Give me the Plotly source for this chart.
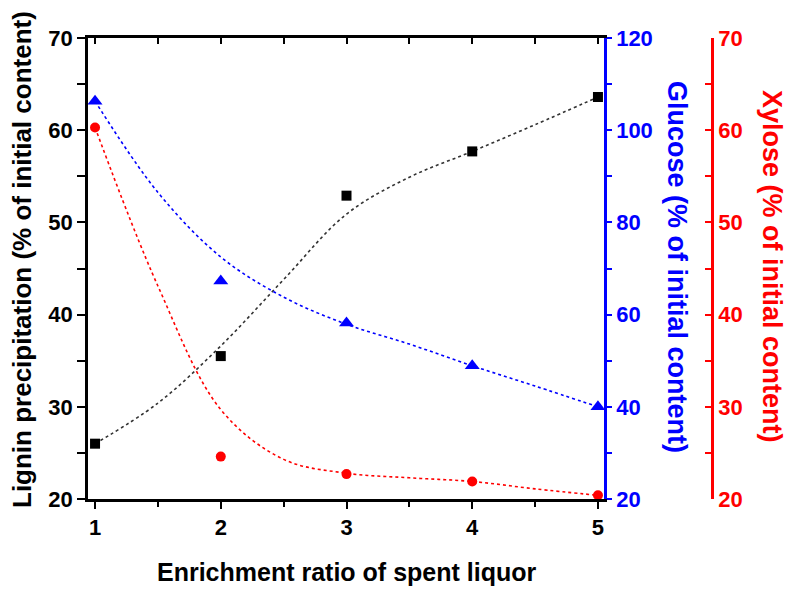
import plotly.graph_objects as go

# ---- data ----
ratio = [1, 2, 3, 4, 5]
lignin = [26.0, 35.5, 52.9, 57.7, 63.6]
glucose = [106.3, 67.3, 58.2, 48.9, 40.0]
xylose = [60.3, 24.6, 22.7, 21.9, 20.4]

# fitted-curve values
fit_x = [1, 1.5, 2, 2.5, 3, 3.5, 4, 4.5, 5]
lignin_fit = [26.0, 30.4, 36.6, 43.8, 50.9, 54.9, 57.7, 60.6, 63.6]
glucose_fit = [106.3, 86.5, 72.5, 63.8, 57.9, 53.6, 48.9, 44.5, 40.0]
xylose_fit = [60.3, 43.1, 29.7, 24.3, 22.8, 22.3, 21.9, 21.1, 20.4]

x_ticks = [1, 2, 3, 4, 5]

FONT = "Liberation Sans"
BLUE = "#0000FF"
RED = "#FF0000"

fig = go.Figure()

fig.add_trace(go.Scatter(x=fit_x, y=lignin_fit, mode="lines", line=dict(color="#333333", width=1.6, dash="dot", shape="spline"), yaxis="y", showlegend=False))
fig.add_trace(go.Scatter(x=fit_x, y=glucose_fit, mode="lines", line=dict(color=BLUE, width=1.6, dash="dot", shape="spline"), yaxis="y2", showlegend=False))
fig.add_trace(go.Scatter(x=fit_x, y=xylose_fit, mode="lines", line=dict(color=RED, width=1.6, dash="dot", shape="spline"), yaxis="y3", showlegend=False))

fig.add_trace(go.Scatter(x=ratio, y=lignin, mode="markers", marker=dict(symbol="square", size=10, color="black"), yaxis="y", showlegend=False))
fig.add_trace(go.Scatter(x=ratio, y=glucose, mode="markers", marker=dict(symbol="triangle-up", size=13, color=BLUE), yaxis="y2", showlegend=False))
fig.add_trace(go.Scatter(x=ratio, y=xylose, mode="markers", marker=dict(symbol="circle", size=10, color=RED), yaxis="y3", showlegend=False))
# invisible trace to materialise the top mirror axis
fig.add_trace(go.Scatter(x=[ratio[0]], y=[lignin[0]], mode="markers", marker=dict(opacity=0), xaxis="x2", yaxis="y", showlegend=False, hoverinfo="skip"))

L, R, T, B = 88, 75, 38, 90
W, H = 787, 589
PW, PH = W - L - R, H - T - B
dom = (604 - L) / PW
xr = [0.944, 5.048]


def px_x(p):
    return (p - L) / PW


def px_y(p):
    return ((H - B) - p) / PH


tickf = dict(family=FONT, size=22, weight="bold")

fig.update_layout(
    width=W, height=H,
    margin=dict(l=L, r=R, t=T, b=B, pad=0),
    paper_bgcolor="white", plot_bgcolor="white",
    xaxis=dict(domain=[0, dom], range=xr, tickvals=x_ticks, ticks="outside", ticklen=7, tickwidth=2,
               tickcolor="black", showline=True, linecolor="black", linewidth=2.5, showgrid=False, zeroline=False,
               tickfont=dict(color="black", **tickf),
               minor=dict(dtick=0.5, tick0=1, ticks="outside", ticklen=5, tickwidth=2, tickcolor="black")),
    xaxis2=dict(overlaying="x", side="top", anchor="y", range=xr, tickvals=x_ticks, ticks="inside", ticklen=6,
                tickwidth=2, tickcolor="black", showline=True, linecolor="black", linewidth=2.5, showgrid=False,
                zeroline=False, showticklabels=False,
                minor=dict(dtick=0.5, tick0=1, ticks="inside", ticklen=6, tickwidth=2, tickcolor="black")),
    yaxis=dict(range=[20, 70], dtick=10, tick0=20, ticks="outside", ticklen=8, tickwidth=2, tickcolor="black",
               showline=True, linecolor="black", linewidth=2.5, showgrid=False, zeroline=False,
               tickfont=dict(color="black", **tickf),
               minor=dict(dtick=5, tick0=20, ticks="outside", ticklen=8, tickwidth=2, tickcolor="black")),
    yaxis2=dict(overlaying="y", side="right", anchor="x", range=[20, 120], dtick=20, tick0=20, ticks="outside",
                ticklen=5, tickwidth=2, tickcolor=BLUE, showline=True, linecolor=BLUE, linewidth=2.5,
                showgrid=False, zeroline=False, tickfont=dict(color=BLUE, **tickf),
                minor=dict(dtick=10, tick0=20, ticks="outside", ticklen=5, tickwidth=2, tickcolor=BLUE)),
    yaxis3=dict(overlaying="y", side="right", anchor="free", position=1.0, range=[20, 70], dtick=10, tick0=20,
                ticks="inside", ticklen=6, tickwidth=2, tickcolor=RED, showline=True, linecolor=RED, linewidth=2.5,
                showgrid=False, zeroline=False, tickfont=dict(color=RED, **tickf),
                minor=dict(dtick=5, tick0=20, ticks="inside", ticklen=6, tickwidth=2, tickcolor=RED)),
)

fig.add_annotation(text="Enrichment ratio of spent liquor", xref="paper", yref="paper",
                   x=px_x(346), y=px_y(588), showarrow=False,
                   xanchor="center", yanchor="bottom",
                   font=dict(color="black", family=FONT, size=25, weight="bold"))
fig.add_annotation(text="Lignin precipitation (% of initial content)", xref="paper", yref="paper",
                   x=px_x(22), y=px_y(260), showarrow=False, textangle=-90,
                   xanchor="center", yanchor="middle",
                   font=dict(color="black", family=FONT, size=26, weight="bold"))
fig.add_annotation(text="Glucose (% of initial content)", xref="paper", yref="paper",
                   x=px_x(677), y=px_y(267), showarrow=False, textangle=90,
                   xanchor="center", yanchor="middle",
                   font=dict(color=BLUE, family=FONT, size=27, weight="bold"))
fig.add_annotation(text="Xylose (% of initial content)", xref="paper", yref="paper",
                   x=px_x(772), y=px_y(266), showarrow=False, textangle=90,
                   xanchor="center", yanchor="middle",
                   font=dict(color=RED, family=FONT, size=27, weight="bold"))

fig.write_html("out.html")
